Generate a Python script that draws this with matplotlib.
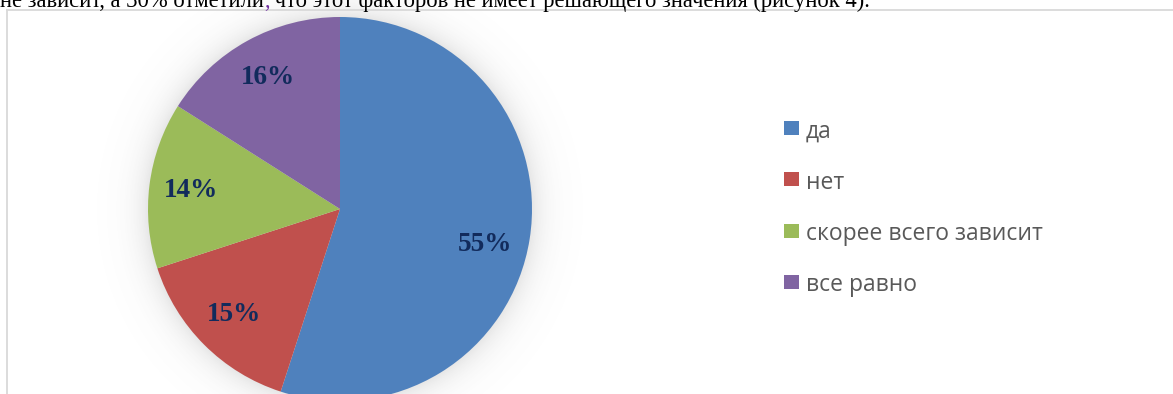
import numpy as np
import matplotlib
matplotlib.use("Agg")
import matplotlib.pyplot as plt
from matplotlib.patches import Rectangle
from matplotlib.lines import Line2D

# Survey answers and their shares (percent)
categories = ["да", "нет", "скорее всего зависит", "все равно"]
shares = [55, 15, 14, 16]
colors = ["#4F81BD", "#C0504D", "#9BBB59", "#8064A2"]

caption_before = "не зависит, а 30% отметили"
caption_comma = ","
caption_after = " что этот факторов не имеет решающего значения (рисунок 4)."

W, H = 1173, 394
fig = plt.figure(figsize=(W / 100, H / 100), dpi=100)
fig.patch.set_facecolor("white")


def fx(x):
    return x / W


def fy(y):
    return 1 - y / H


# Frame of the chart area
fig.add_artist(Line2D([fx(6.5), 1.0], [fy(9.5), fy(9.5)], color="#D9D9D9", lw=1.3))
fig.add_artist(Line2D([fx(6.5), fx(6.5)], [fy(9.5), 0.0], color="#D9D9D9", lw=1.3))

# Running text line above the chart (serif, partly cut by the top edge)
cap_size = 16.3
cap_y = fy(7)
t1 = fig.text(fx(0), cap_y, caption_before, family="Liberation Serif",
              fontsize=cap_size, color="black", va="baseline", ha="left")
fig.canvas.draw()
r = fig.canvas.get_renderer()
bb = t1.get_window_extent(r)
t2 = fig.text(bb.x1 / W, cap_y, caption_comma, family="Liberation Serif",
              fontsize=cap_size, color="#7030A0", va="baseline", ha="left")
bb2 = t2.get_window_extent(r)
fig.text(bb2.x1 / W, cap_y, caption_after, family="Liberation Serif",
         fontsize=cap_size, color="black", va="baseline", ha="left")

# Pie axes, placed in pixel terms
cx, cy, R = 340, 209, 192
ext = 1.3
ax = fig.add_axes([fx(cx - ext * R), fy(cy + ext * R),
                   2 * ext * R / W, 2 * ext * R / H])
ax.axis("off")

# Soft shadow around the pie
n = 600
g = np.linspace(-ext, ext, n)
X, Y = np.meshgrid(g, g)
d = (np.hypot(X, Y) - 1.0) * R
d = np.clip(d, 0, None)
shade = 0.15 * np.exp(-d / 14.0)
img = np.ones((n, n, 4))
img[..., :3] = 0.35
img[..., 3] = shade
ax.imshow(img, extent=(-ext, ext, -ext, ext), origin="lower", zorder=0,
          interpolation="bilinear")

wedges, texts, autotexts = ax.pie(
    shares, colors=colors, startangle=90, counterclock=False,
    autopct=lambda p: f"{p:.0f}%", pctdistance=0.78,
    wedgeprops=dict(linewidth=0, zorder=2),
    textprops=dict(family="Liberation Serif", fontweight="bold",
                   fontsize=19.6, color="#122B5C"),
)
for w in wedges:
    w.set_zorder(2)
for t in autotexts:
    t.set_zorder(3)

# The large slice keeps its label a little lower than the mid-angle
x0, y0 = autotexts[0].get_position()
autotexts[0].set_position((x0 - 0.015, y0 - 0.065))

ax.set_xlim(-ext, ext)
ax.set_ylim(-ext, ext)
ax.set_aspect("equal")

# Legend drawn as colour squares with labels
leg_x, leg_top, leg_step = 784, 120.7, 51.4
sq_w, sq_h = 15, 14
for i, (name, col) in enumerate(zip(categories, colors)):
    top = leg_top + i * leg_step
    fig.add_artist(Rectangle((fx(leg_x), fy(top + sq_h)), sq_w / W, sq_h / H,
                             facecolor=col, edgecolor="none",
                             transform=fig.transFigure))
    fig.text(fx(806), fy(top + sq_h / 2 + 0.5), name,
             family=["Open Sans", "DejaVu Sans"], fontsize=16.5,
             color="#595959", va="center_baseline", ha="left")

fig.savefig("out.png", dpi=100, facecolor="white")
